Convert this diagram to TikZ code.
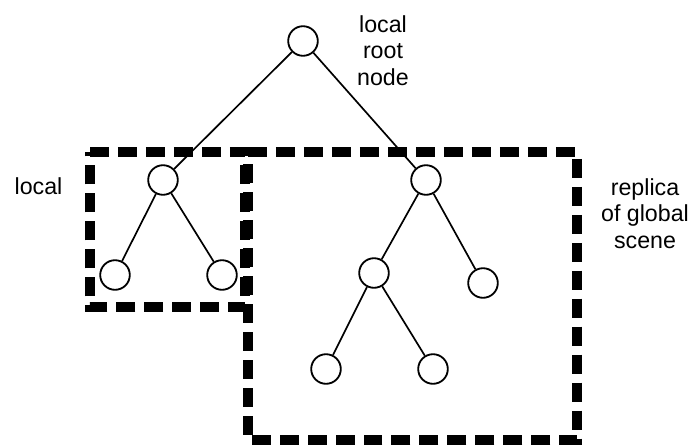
\documentclass[tikz,border=0pt]{standalone}
\usepackage{fontspec}
\setmainfont{Liberation Sans}
\usetikzlibrary{positioning}
\tikzset{
  tnode/.style={draw,circle,fill=white,line width=1.3pt,minimum size=0.74cm,inner sep=0pt},
  dashbox/.style={line width=7pt,dash pattern=on 13.5pt off 6.4pt},
  lbl/.style={align=center,inner sep=0pt,anchor=north,font=\fontsize{16.5}{19.1}\selectfont}
}
\begin{document}
\begin{tikzpicture}[x=0.025cm,y=-0.025cm]
\useasboundingbox (0,0) rectangle (695,447);
% dashed frames
\draw[dashbox] (90,152) -- (245,152) -- (245,307) -- (90,307) -- cycle;
\draw[dashbox] (248,152) -- (577,152) -- (577,440) -- (248,440) -- cycle;
% tree
\node[tnode] (root) at (303,41) {};
\node[tnode] (L) at (163,180) {};
\node[tnode] (LL) at (115,275) {};
\node[tnode] (LR) at (222,275) {};
\node[tnode] (R) at (426,180) {};
\node[tnode] (RL) at (374,273) {};
\node[tnode] (RR) at (483,283) {};
\node[tnode] (RLL) at (326,369) {};
\node[tnode] (RLR) at (433,369) {};
\draw[line width=1.2pt] (root) -- (L);
\draw[line width=1.2pt] (root) -- (R);
\draw[line width=1.2pt] (L) -- (LL);
\draw[line width=1.2pt] (L) -- (LR);
\draw[line width=1.2pt] (R) -- (RL);
\draw[line width=1.2pt] (R) -- (RR);
\draw[line width=1.2pt] (RL) -- (RLL);
\draw[line width=1.2pt] (RL) -- (RLR);
% labels
\node[lbl] (rootlbl) at (383,15) {local\\root\\node};
\node[lbl] (locallbl) at (38.5,177) {local};
\node[lbl] (replbl) at (645,178) {replica\\of global\\scene};
\end{tikzpicture}
\end{document}
